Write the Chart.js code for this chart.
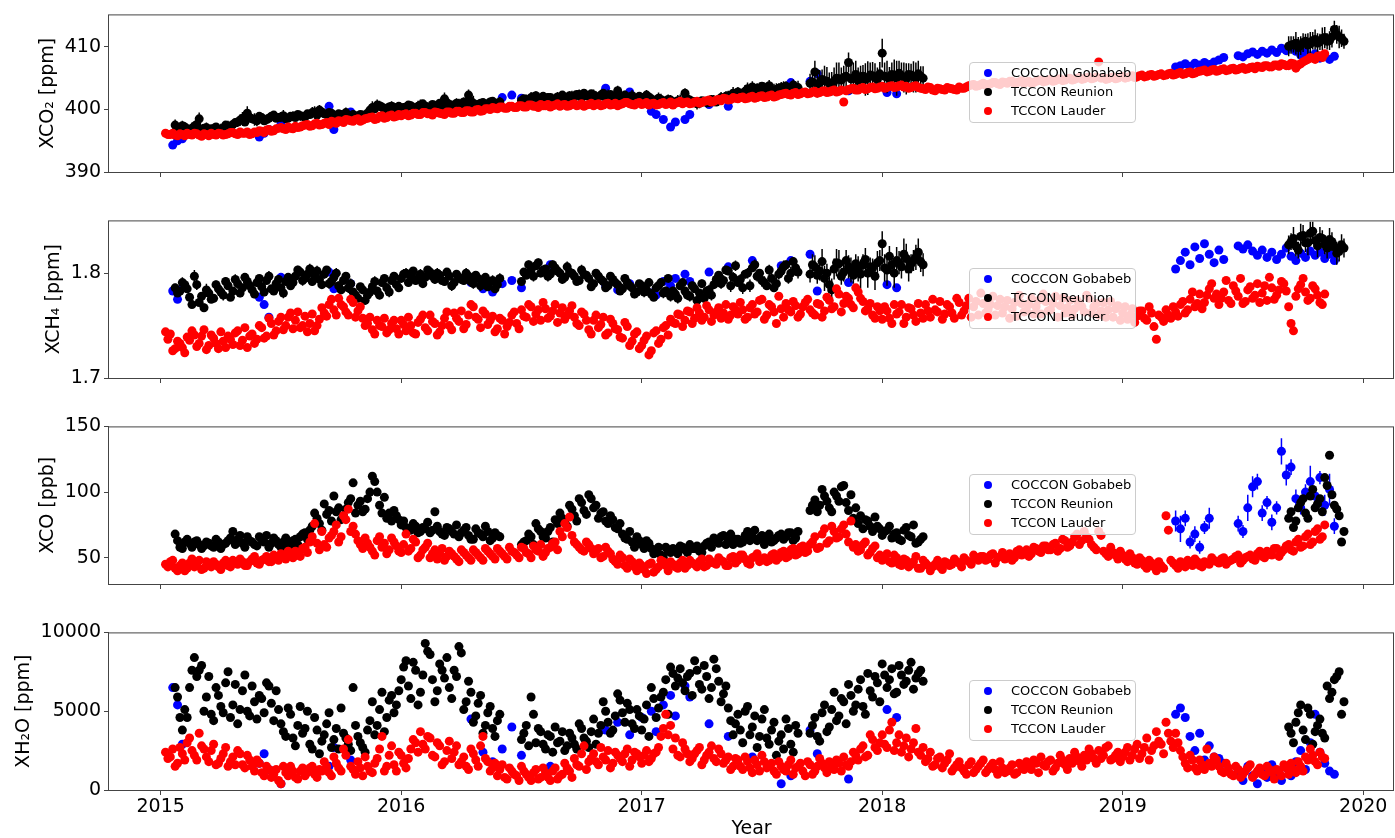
<!DOCTYPE html>
<html><head><meta charset="utf-8">
<script src="https://cdn.jsdelivr.net/npm/chart.js@4.4.1/dist/chart.umd.min.js"></script>
<style>
html,body{margin:0;padding:0;background:#fff;overflow:hidden;}
#wrap{position:relative;width:1395px;height:838px;overflow:hidden;}
.pc{position:absolute;left:0;}
.leg{position:absolute;left:969px;width:167px;height:61px;box-sizing:border-box;border:1px solid #cccccc;border-radius:4px;background:rgba(255,255,255,0.8);font-family:'DejaVu Sans',sans-serif;font-size:13px;color:#000;}
.leg .row{position:absolute;left:0;height:19px;line-height:19px;width:100%;}
.leg .dot{position:absolute;left:14px;top:5.5px;width:8px;height:8px;border-radius:50%;}
.leg .txt{position:absolute;left:41px;top:0;white-space:nowrap;}
</style></head><body><div id="wrap"></div>
<script>
// ---------------- DATA ----------------
const yearTicks = [2015,2016,2017,2018,2019,2020];
const xco2Ticks = [390,400,410];
const xch4Ticks = [1.7,1.8];
const xcoTicks = [50,100,150];
const xh2oTicks = [0,5000,10000];

// ===== TCCON Reunion (sample set A) =====
const reunionDates = [
2015.06,2015.08,2015.10,2015.12,2015.14,2015.16,2015.18,2015.20,2015.22,2015.24,
2015.26,2015.28,2015.30,2015.32,2015.34,2015.36,2015.38,2015.40,2015.42,2015.44,
2015.46,2015.48,2015.50,2015.52,2015.54,2015.56,2015.58,2015.60,2015.62,2015.64,
2015.66,2015.68,2015.70,2015.72,2015.74,2015.76,2015.78,2015.80,2015.82,2015.84,
2015.86,2015.88,2015.90,2015.92,2015.94,2015.96,2015.98,
2016.00,2016.02,2016.04,2016.06,2016.08,2016.10,2016.12,2016.14,2016.16,2016.18,
2016.20,2016.22,2016.24,2016.26,2016.28,2016.30,2016.32,2016.34,2016.36,2016.38,
2016.40,
2016.50,2016.52,2016.54,2016.56,2016.58,2016.60,2016.62,2016.64,2016.66,2016.68,
2016.70,2016.72,2016.74,2016.76,2016.78,2016.80,2016.82,2016.84,2016.86,2016.88,
2016.90,2016.92,2016.94,2016.96,2016.98,
2017.00,2017.02,2017.04,2017.06,2017.08,2017.10,2017.12,2017.14,2017.16,2017.18,
2017.20,2017.22,2017.24,2017.26,2017.28,2017.30,2017.32,2017.34,2017.36,2017.38,
2017.40,2017.42,2017.44,2017.46,2017.48,2017.50,2017.52,2017.54,2017.56,2017.58,
2017.60,2017.62,2017.64,
2017.70,2017.72,2017.74,2017.76,2017.78,2017.80,2017.82,2017.84,2017.86,2017.88,
2017.90,2017.92,2017.94,2017.96,2017.98,
2018.00,2018.02,2018.04,2018.06,2018.08,2018.10,2018.12,2018.14,2018.16,
2019.70,2019.72,2019.74,2019.76,2019.78,2019.80,2019.82,2019.84,2019.86,2019.88,2019.90,2019.92];
const reunionXCO2 = [
397.5,396.9,397.2,396.8,397.3,398.5,397.0,396.6,396.9,396.7,
397.0,397.3,397.6,398.0,398.6,399.4,398.5,398.2,398.7,398.4,
398.9,398.6,398.8,398.5,398.9,398.7,399.0,398.8,399.2,399.6,
399.9,399.3,399.5,399.1,399.3,399.0,398.8,399.2,398.9,399.1,
399.4,400.3,400.7,400.4,400.2,400.5,400.3,
400.1,400.4,400.6,400.3,400.7,400.5,400.2,400.6,401.0,401.7,
400.8,400.5,400.9,401.2,402.3,401.0,400.8,401.1,400.9,401.3,
401.0,
401.4,401.6,401.9,402.2,401.8,401.7,401.9,401.6,401.8,401.9,
402.2,402.0,402.4,402.6,402.1,402.3,402.0,402.6,402.2,402.0,
403.0,402.1,401.9,402.2,401.8,
401.9,402.3,401.7,401.5,401.6,401.3,401.5,401.2,401.4,402.6,
401.5,401.2,401.0,401.3,401.1,401.4,401.6,401.8,402.2,402.6,
402.8,402.6,403.3,403.6,403.4,403.7,403.3,403.0,403.2,403.5,
403.7,403.4,403.6,
404.2,406.0,404.3,404.6,404.2,404.5,404.9,405.1,407.5,405.0,
404.6,405.3,405.0,405.4,404.8,
409.0,405.2,405.6,405.0,405.4,404.9,405.5,405.1,405.3,
410.3,410.6,410.2,410.9,410.5,411.2,410.8,411.5,411.0,412.8,411.6,410.9];
const reunionXCO2Err = [
0.9,0.6,0.8,0.5,0.7,1.0,0.6,0.5,0.8,0.6,
0.7,0.9,0.6,0.8,1.0,1.1,0.7,0.9,0.6,0.8,
0.7,0.6,0.8,0.5,0.7,0.6,0.8,0.5,0.7,0.9,
0.8,0.6,0.7,0.5,0.6,0.8,0.5,0.7,0.6,0.5,
0.7,1.0,0.9,0.7,0.6,0.8,0.6,
0.6,0.8,0.7,0.5,0.9,0.6,0.7,0.8,0.6,1.0,
0.7,0.6,0.8,0.7,0.9,1.2,0.7,0.6,0.8,0.7,
0.6,
0.7,0.8,0.9,0.7,0.6,0.8,0.7,0.9,0.6,0.8,
0.7,1.0,0.8,0.6,0.7,0.9,0.8,0.6,1.0,0.7,
0.8,0.6,0.7,0.9,0.6,
0.7,0.8,0.6,0.7,0.9,0.6,0.8,0.7,1.0,0.8,
0.6,0.7,0.8,0.6,0.7,0.9,0.6,0.7,0.8,1.0,
0.8,0.7,1.0,0.9,0.8,0.7,0.9,0.8,1.0,0.9,
0.8,1.0,0.9,
1.5,1.8,2.0,2.4,1.7,2.2,2.6,1.9,1.6,2.5,
2.1,1.8,2.7,2.2,1.9,
2.3,2.6,1.9,2.8,2.1,2.5,1.8,2.4,1.6,
1.4,1.8,1.5,1.2,1.9,1.6,1.3,1.7,1.5,1.4,1.8,1.2];
const reunionXCH4 = [
1.786,1.783,1.789,1.777,1.797,1.772,1.767,1.781,1.776,1.785,
1.779,1.788,1.783,1.790,1.786,1.792,1.784,1.791,1.787,1.793,
1.785,1.790,1.786,1.792,1.788,1.797,1.801,1.795,1.804,1.798,
1.794,1.799,1.790,1.796,1.788,1.793,1.786,1.782,1.776,1.784,
1.779,1.787,1.783,1.791,1.786,1.793,1.789,
1.795,1.800,1.797,1.793,1.799,1.796,1.801,1.794,1.798,1.792,
1.797,1.791,1.796,1.793,1.797,1.790,1.795,1.791,1.787,1.793,
1.789,
1.792,1.798,1.803,1.807,1.800,1.804,1.799,1.805,1.800,1.796,
1.801,1.797,1.793,1.799,1.795,1.790,1.797,1.792,1.788,1.794,
1.789,1.785,1.791,1.786,1.782,
1.788,1.784,1.780,1.786,1.791,1.783,1.778,1.780,1.788,1.783,
1.778,1.785,1.781,1.776,1.784,1.789,1.798,1.793,1.802,1.796,
1.791,1.786,1.800,1.805,1.797,1.793,1.788,1.795,1.790,1.802,
1.808,1.800,1.805,
1.799,1.806,1.802,1.795,1.789,1.804,1.809,1.801,1.806,1.798,
1.804,1.808,1.800,1.805,1.810,
1.828,1.803,1.808,1.812,1.806,1.814,1.809,1.815,1.811,
1.830,1.826,1.835,1.829,1.838,1.831,1.834,1.827,1.832,1.825,1.821,1.824];
const reunionXCH4Err = [
0.004,0.003,0.005,0.004,0.006,0.003,0.004,0.005,0.003,0.004,
0.005,0.004,0.003,0.005,0.004,0.006,0.003,0.004,0.005,0.004,
0.003,0.005,0.004,0.003,0.004,0.005,0.004,0.003,0.005,0.004,
0.003,0.004,0.005,0.003,0.004,0.003,0.005,0.004,0.003,0.004,
0.005,0.004,0.003,0.004,0.005,0.003,0.004,
0.004,0.005,0.003,0.004,0.005,0.004,0.003,0.004,0.005,0.004,
0.003,0.004,0.005,0.004,0.003,0.005,0.004,0.003,0.004,0.005,
0.004,
0.004,0.003,0.005,0.004,0.003,0.004,0.005,0.004,0.003,0.004,
0.005,0.004,0.003,0.004,0.005,0.004,0.003,0.005,0.004,0.003,
0.004,0.005,0.004,0.003,0.004,
0.004,0.003,0.005,0.004,0.003,0.004,0.005,0.004,0.003,0.004,
0.005,0.004,0.003,0.004,0.005,0.004,0.003,0.005,0.004,0.005,
0.004,0.006,0.005,0.004,0.005,0.006,0.004,0.005,0.006,0.005,
0.004,0.006,0.005,
0.008,0.011,0.009,0.012,0.008,0.010,0.013,0.009,0.011,0.008,
0.012,0.010,0.014,0.009,0.011,
0.012,0.015,0.010,0.013,0.011,0.014,0.009,0.012,0.010,
0.008,0.010,0.012,0.009,0.011,0.008,0.010,0.009,0.011,0.008,0.010,0.009];
const reunionXCO = [
68,58,62,61,62,60,59,61,58,62,
60,63,70,64,61,66,62,59,64,67,
61,63,58,65,60,64,66,69,71,84,
76,91,86,97,88,82,92,107,90,85,
95,112,100,84,80,78,82,
75,73,71,74,70,72,69,85,70,67,
72,68,66,71,67,64,69,66,70,65,
67,
60,63,66,76,70,65,73,79,84,77,
90,82,95,86,98,88,80,85,76,79,
72,68,64,62,66,
60,63,57,55,52,58,54,56,59,56,
60,57,55,59,62,65,61,67,63,60,
64,62,70,66,63,67,64,62,65,68,
66,69,65,
86,94,90,97,88,100,93,105,86,80,
76,72,78,70,74,
67,71,65,69,63,73,66,61,64,
85,78,92,84,97,88,95,111,128,90,82,70];
const reunionXH2O = [
6500,4600,5100,6500,8400,7600,5000,7200,4400,6000,
4900,7500,5400,4200,6300,5000,6600,4500,5800,6800,
5500,6300,4200,3400,4800,2800,5300,3900,2900,4600,
2300,3500,4900,3200,2600,3600,2900,6500,3400,2700,
3800,5600,4100,6200,4600,6000,5400,
7000,8200,5800,7600,6200,9300,8600,5600,8000,7100,
6500,7600,9100,5100,6900,4300,5500,3600,4900,3900,
4400,
3200,4100,5900,3000,3700,2600,3400,4000,3100,2500,
3600,2900,4200,3300,2700,4500,3600,5600,4300,3800,
6100,4900,5500,4200,5100,
3800,5400,6500,4600,5900,7000,7800,6600,7700,6300,
7400,8200,6700,7900,5800,8300,6900,6100,5200,3500,
4800,3000,5300,4000,2700,4500,3300,3800,2200,3500,
4500,2900,4100,
3600,4600,3100,5400,4000,6200,4700,5600,6700,5000,
6400,5300,7400,5900,6800,
8000,6500,7700,6200,7300,6900,8100,7100,7600,
3600,4300,5400,3200,4800,3700,4500,3300,5800,7000,7500,5600];

// ===== TCCON Reunion (sample set B) =====
const reunionDatesB = [
2015.07,2015.09,2015.11,2015.13,2015.15,2015.17,2015.19,2015.21,2015.23,2015.25,
2015.27,2015.29,2015.31,2015.33,2015.35,2015.37,2015.39,2015.41,2015.43,2015.45,
2015.47,2015.49,2015.51,2015.53,2015.55,2015.57,2015.59,2015.61,2015.63,2015.65,
2015.67,2015.69,2015.71,2015.73,2015.75,2015.77,2015.79,2015.81,2015.83,2015.85,
2015.87,2015.89,2015.91,2015.93,2015.95,2015.97,2015.99,
2016.01,2016.03,2016.05,2016.07,2016.09,2016.11,2016.13,2016.15,2016.17,2016.19,
2016.21,2016.23,2016.25,2016.27,2016.29,2016.31,2016.33,2016.35,2016.37,2016.39,
2016.41,
2016.51,2016.53,2016.55,2016.57,2016.59,2016.61,2016.63,2016.65,2016.67,2016.69,
2016.71,2016.73,2016.75,2016.77,2016.79,2016.81,2016.83,2016.85,2016.87,2016.89,
2016.91,2016.93,2016.95,2016.97,2016.99,
2017.01,2017.03,2017.05,2017.07,2017.09,2017.11,2017.13,2017.15,2017.17,2017.19,
2017.21,2017.23,2017.25,2017.27,2017.29,2017.31,2017.33,2017.35,2017.37,2017.39,
2017.41,2017.43,2017.45,2017.47,2017.49,2017.51,2017.53,2017.55,2017.57,2017.59,
2017.61,2017.63,2017.65,
2017.71,2017.73,2017.75,2017.77,2017.79,2017.81,2017.83,2017.85,2017.87,2017.89,
2017.91,2017.93,2017.95,2017.97,2017.99,
2018.01,2018.03,2018.05,2018.07,2018.09,2018.11,2018.13,2018.15,2018.17,
2019.69,2019.71,2019.73,2019.75,2019.77,2019.79,2019.81,2019.83,2019.85,2019.87,2019.89,2019.91];
const reunionXCO2B = [
397.1,397.4,396.9,397.0,397.6,396.8,397.1,396.9,397.2,396.8,
397.5,397.0,397.9,398.3,398.0,398.7,398.4,398.9,398.2,398.6,
399.1,398.7,399.0,398.6,398.9,399.2,398.9,399.3,399.5,399.1,
399.6,399.2,399.4,398.9,399.2,399.5,399.0,398.8,399.2,399.0,
399.9,400.1,400.6,400.0,400.4,400.2,400.5,
400.3,400.7,400.2,400.5,400.9,400.4,400.8,400.3,400.6,401.1,
400.7,401.0,400.6,400.9,401.3,400.7,401.0,400.8,401.2,400.9,
401.2,
401.7,401.5,402.0,401.6,402.1,401.9,401.6,402.0,402.3,401.8,
402.1,402.4,401.9,402.2,402.5,402.0,402.3,401.9,402.4,402.1,
401.8,402.3,402.0,401.7,402.1,
401.6,402.0,401.4,401.8,401.2,401.6,401.0,401.4,401.1,401.7,
401.3,400.9,401.4,401.1,401.6,401.2,401.9,402.1,401.7,402.4,
402.1,402.9,402.5,403.0,403.2,403.5,403.8,403.1,403.4,403.6,
403.2,403.9,403.5,
404.4,404.0,404.8,404.5,404.1,405.0,404.7,405.3,404.9,405.6,
405.2,404.8,405.5,405.1,405.7,
405.3,404.9,405.4,405.8,405.1,405.6,405.2,405.7,405.0,
410.1,410.4,409.9,410.7,410.3,411.0,410.6,411.3,410.9,411.6,412.0,411.4];
const reunionXCO2ErrB = [
0.7,0.8,0.5,0.9,0.6,0.7,0.8,0.6,0.5,0.9,
0.6,0.8,0.7,0.9,0.6,0.8,1.0,0.7,0.5,0.8,
0.6,0.7,0.9,0.6,0.8,0.5,0.7,0.6,0.9,0.7,
0.6,0.8,0.5,0.7,0.6,0.8,0.7,0.5,0.6,0.8,
0.9,0.7,0.8,0.6,0.7,0.9,0.6,
0.7,0.6,0.8,0.9,0.6,0.7,0.5,0.8,0.7,0.9,
0.6,0.8,0.7,0.5,0.9,0.7,0.6,0.8,0.7,0.6,
0.8,
0.6,0.9,0.7,0.8,0.6,0.7,0.9,0.8,0.6,0.7,
0.9,0.6,0.8,0.7,0.6,0.9,0.7,0.8,0.6,0.7,
0.9,0.7,0.6,0.8,0.7,
0.8,0.6,0.7,0.9,0.7,0.8,0.6,0.9,0.7,0.8,
0.7,0.9,0.6,0.8,0.7,0.6,0.9,0.8,0.7,0.9,
0.8,1.0,0.8,0.9,1.1,0.8,0.9,1.0,0.8,0.9,
1.0,0.9,1.1,
1.7,2.1,1.6,2.3,1.9,2.5,2.0,1.7,2.4,2.2,
1.8,2.6,2.0,2.3,1.9,
2.2,1.9,2.6,2.0,2.4,1.8,2.5,2.1,1.9,
1.6,1.3,1.7,1.5,1.9,1.4,1.6,1.8,1.3,1.7,1.5,1.4];
const reunionXCH4B = [
1.781,1.791,1.785,1.770,1.789,1.778,1.784,1.775,1.789,1.782,
1.792,1.777,1.794,1.781,1.796,1.788,1.780,1.795,1.782,1.797,
1.783,1.794,1.781,1.796,1.791,1.803,1.793,1.799,1.792,1.802,
1.789,1.803,1.792,1.800,1.784,1.797,1.790,1.779,1.787,1.774,
1.782,1.792,1.779,1.795,1.782,1.797,1.786,
1.799,1.791,1.802,1.795,1.790,1.803,1.797,1.800,1.793,1.801,
1.788,1.799,1.794,1.800,1.792,1.798,1.788,1.796,1.792,1.785,
1.795,
1.801,1.808,1.797,1.810,1.803,1.797,1.808,1.802,1.794,1.806,
1.800,1.792,1.803,1.798,1.787,1.800,1.794,1.786,1.797,1.791,
1.783,1.795,1.788,1.780,1.790,
1.782,1.791,1.777,1.788,1.781,1.795,1.783,1.776,1.791,1.779,
1.788,1.774,1.790,1.783,1.779,1.794,1.790,1.803,1.788,1.807,
1.794,1.799,1.788,1.808,1.800,1.791,1.803,1.786,1.799,1.806,
1.795,1.811,1.801,
1.808,1.798,1.811,1.800,1.784,1.810,1.797,1.812,1.803,1.809,
1.799,1.813,1.806,1.797,1.812,
1.805,1.816,1.800,1.810,1.818,1.804,1.812,1.820,1.808,
1.827,1.833,1.822,1.836,1.829,1.840,1.826,1.833,1.824,1.830,1.819,1.827];
const reunionXCH4ErrB = [
0.003,0.005,0.004,0.003,0.005,0.004,0.006,0.003,0.004,0.005,
0.004,0.003,0.005,0.004,0.003,0.005,0.004,0.003,0.004,0.005,
0.003,0.004,0.005,0.004,0.003,0.004,0.005,0.003,0.004,0.005,
0.004,0.003,0.004,0.005,0.003,0.004,0.005,0.004,0.003,0.004,
0.003,0.005,0.004,0.003,0.005,0.004,0.003,
0.005,0.004,0.003,0.005,0.004,0.003,0.004,0.005,0.003,0.004,
0.005,0.003,0.004,0.005,0.004,0.003,0.005,0.004,0.003,0.004,
0.005,
0.003,0.004,0.005,0.004,0.003,0.005,0.004,0.003,0.004,0.005,
0.004,0.003,0.005,0.004,0.003,0.004,0.005,0.003,0.004,0.005,
0.003,0.004,0.005,0.004,0.003,
0.005,0.004,0.003,0.004,0.005,0.003,0.004,0.005,0.004,0.003,
0.004,0.005,0.004,0.003,0.005,0.004,0.005,0.004,0.006,0.005,
0.005,0.004,0.006,0.005,0.004,0.006,0.005,0.004,0.005,0.006,
0.005,0.004,0.006,
0.010,0.008,0.012,0.009,0.011,0.013,0.008,0.010,0.012,0.009,
0.014,0.011,0.009,0.013,0.010,
0.013,0.010,0.014,0.011,0.015,0.012,0.010,0.013,0.011,
0.009,0.011,0.008,0.010,0.012,0.009,0.011,0.008,0.010,0.009,0.011,0.010];
const reunionXCOB = [
63,57,64,58,63,57,62,59,64,57,
61,65,60,67,58,63,60,66,62,58,
65,60,62,57,63,60,68,64,74,80,
71,83,78,85,79,87,95,84,93,87,
100,108,90,96,84,86,79,
78,72,76,69,73,77,71,74,68,73,
70,75,69,73,64,72,68,74,63,69,
66,
62,68,60,72,66,70,62,76,80,74,
87,78,92,83,95,90,84,78,82,73,
76,65,70,58,63,
57,61,53,58,50,55,57,53,58,54,
57,59,54,61,58,63,66,60,68,64,
61,67,63,71,65,60,68,63,67,64,
69,63,70,
90,85,102,93,85,97,104,92,98,88,
82,79,74,81,72,
70,74,68,64,71,67,75,62,66,
80,73,88,95,80,102,91,85,105,98,87,62];
const reunionXH2OB = [
5900,3800,4600,7600,7200,7900,5900,4800,6500,5300,
6800,4600,6700,5100,7300,4700,5600,6000,4900,6600,
4400,5100,3700,5200,3300,4100,3600,5000,2600,3800,
3100,4200,2700,3900,5200,3300,2500,4100,3000,2400,
4400,3500,5100,3700,5700,4900,6300,
7800,6600,8100,5400,7300,8800,7000,6300,7600,8400,
5800,7200,8700,5600,6200,4700,6000,4100,5300,3400,
4800,
3600,2800,4800,3900,2900,3500,2400,3000,3700,2800,
3300,2600,3900,3100,3700,2900,4100,5000,3600,4700,
5700,4300,5100,3900,4700,
4500,3400,5800,5200,6200,4800,7400,7100,6800,7200,
6000,7600,6400,7200,6500,7700,5600,6600,4400,4200,
3800,5000,3500,4700,3400,5100,2900,4300,3100,2600,
3900,2400,3600,
4100,3400,4900,3700,5100,4400,5800,4200,6000,5400,
7000,4800,6300,7200,5600,
7300,7000,6100,7900,6700,7600,6400,7400,6900,
4000,3000,4900,3800,5200,2900,4100,3600,6600,6200,7200,4800];

// ===== TCCON Lauder (sample set A) =====
const lauderDates = [
2015.02,2015.04,2015.06,2015.08,2015.10,2015.12,2015.14,2015.16,2015.18,2015.20,
2015.22,2015.24,2015.26,2015.28,2015.30,2015.32,2015.34,2015.36,2015.38,2015.40,
2015.42,2015.44,2015.46,2015.48,2015.50,2015.52,2015.54,2015.56,2015.58,2015.60,
2015.62,2015.64,2015.66,2015.68,2015.70,2015.72,2015.74,2015.76,2015.78,2015.80,
2015.82,2015.84,2015.86,2015.88,2015.90,2015.92,2015.94,2015.96,2015.98,
2016.00,2016.02,2016.04,2016.06,2016.08,2016.10,2016.12,2016.14,2016.16,2016.18,
2016.20,2016.22,2016.24,2016.26,2016.28,2016.30,2016.32,2016.34,2016.36,2016.38,
2016.40,2016.42,2016.44,2016.46,2016.48,2016.50,2016.52,2016.54,2016.56,2016.58,
2016.60,2016.62,2016.64,2016.66,2016.68,2016.70,2016.72,2016.74,2016.76,2016.78,
2016.80,2016.82,2016.84,2016.86,2016.88,2016.90,2016.92,2016.94,2016.96,2016.98,
2017.00,2017.02,2017.04,2017.06,2017.08,2017.10,2017.12,2017.14,2017.16,2017.18,
2017.20,2017.22,2017.24,2017.26,2017.28,2017.30,2017.32,2017.34,2017.36,2017.38,
2017.40,2017.42,2017.44,2017.46,2017.48,2017.50,2017.52,2017.54,2017.56,2017.58,
2017.60,2017.62,2017.64,2017.66,2017.68,2017.70,2017.72,2017.74,2017.76,2017.78,
2017.80,2017.82,2017.84,2017.86,2017.88,2017.90,2017.92,2017.94,2017.96,2017.98,
2018.00,2018.02,2018.04,2018.06,2018.08,2018.10,2018.12,2018.14,2018.16,2018.18,
2018.20,2018.22,2018.24,2018.26,2018.28,2018.30,2018.32,2018.34,2018.36,2018.38,
2018.40,2018.42,2018.44,2018.46,2018.48,2018.50,2018.52,2018.54,2018.56,2018.58,
2018.60,2018.62,2018.64,2018.66,2018.68,2018.70,2018.72,2018.74,2018.76,2018.78,
2018.80,2018.82,2018.84,2018.86,2018.88,2018.90,2018.92,2018.94,2018.96,2018.98,
2019.00,2019.02,2019.04,2019.06,2019.08,2019.10,2019.12,2019.14,2019.16,2019.18,
2019.20,2019.22,2019.24,2019.26,2019.28,2019.30,2019.32,2019.34,2019.36,2019.38,
2019.40,2019.42,2019.44,2019.46,2019.48,2019.50,2019.52,2019.54,2019.56,2019.58,
2019.60,2019.62,2019.64,2019.66,2019.68,2019.70,2019.72,2019.74,2019.76,2019.78,
2019.80,2019.82,2019.84];
const lauderXCO2 = [
396.2,396.0,395.9,396.1,395.8,396.0,396.2,395.9,396.1,395.8,
396.0,396.2,395.9,396.1,396.3,396.0,396.2,396.4,396.1,396.3,
396.5,396.7,396.5,396.9,397.1,396.8,397.0,397.3,397.2,397.5,
397.3,397.7,397.5,397.8,397.6,398.0,398.2,397.9,398.3,398.1,
398.5,398.3,398.6,398.8,398.5,399.0,398.7,399.1,398.9,
399.0,399.3,399.1,399.4,399.2,399.5,399.3,399.6,399.4,399.2,
399.6,399.4,399.7,399.5,399.8,399.6,400.0,399.8,400.1,400.3,
400.1,400.4,400.2,400.5,400.3,400.6,400.4,400.7,400.5,400.8,
400.6,400.4,400.7,400.5,400.8,400.6,400.9,400.7,400.5,400.8,
400.6,400.9,400.7,401.0,400.8,400.6,400.9,401.1,400.8,401.0,
400.8,401.1,400.9,400.7,401.0,400.8,401.2,401.0,401.3,401.1,
400.9,401.2,401.0,401.3,401.5,401.3,401.6,401.8,401.5,401.9,
401.7,402.0,401.8,402.1,401.9,402.2,402.0,402.3,402.1,402.4,
402.6,402.3,402.7,402.5,402.8,402.6,402.9,402.7,403.0,402.8,
403.1,402.9,401.2,403.2,403.4,403.1,403.5,403.3,403.6,403.4,
403.7,403.5,403.8,403.6,403.9,403.7,403.5,403.8,403.4,403.2,
403.5,403.0,403.3,403.1,403.4,403.2,403.6,403.4,403.8,404.0,
403.8,404.2,404.0,404.3,404.1,404.4,404.2,404.5,404.3,404.6,
404.4,404.2,404.5,404.7,404.5,404.8,404.6,404.9,404.7,405.0,
404.8,405.1,404.9,405.2,405.0,407.6,405.1,404.9,405.2,405.0,
405.3,405.1,405.4,405.2,405.5,405.3,405.6,405.4,405.7,405.5,
405.8,405.6,405.9,405.7,406.0,405.8,406.1,406.3,406.1,406.4,
406.2,406.5,406.3,406.6,406.4,406.7,406.5,406.8,406.9,406.7,
407.0,406.8,407.1,407.3,407.0,407.4,406.6,407.3,407.8,408.3,
408.0,408.6,408.9];
const lauderXCH4 = [
1.744,1.742,1.728,1.733,1.724,1.736,1.741,1.733,1.746,1.731,
1.738,1.728,1.735,1.740,1.732,1.745,1.736,1.729,1.742,1.737,
1.748,1.740,1.752,1.745,1.758,1.750,1.762,1.755,1.748,1.759,
1.752,1.745,1.756,1.762,1.770,1.765,1.776,1.768,1.760,1.772,
1.764,1.757,1.752,1.746,1.755,1.749,1.743,1.752,1.747,
1.755,1.745,1.750,1.742,1.756,1.748,1.760,1.752,1.744,1.757,
1.750,1.762,1.754,1.747,1.760,1.768,1.756,1.764,1.751,1.759,
1.747,1.755,1.749,1.760,1.752,1.765,1.758,1.768,1.761,1.755,
1.766,1.759,1.770,1.762,1.756,1.764,1.758,1.750,1.761,1.746,
1.755,1.748,1.758,1.743,1.752,1.746,1.738,1.749,1.735,1.744,
1.731,1.740,1.726,1.745,1.737,1.750,1.756,1.752,1.760,1.755,
1.763,1.757,1.762,1.758,1.765,1.760,1.767,1.762,1.756,1.768,
1.761,1.765,1.758,1.770,1.763,1.775,1.760,1.768,1.752,1.766,
1.771,1.763,1.769,1.761,1.772,1.765,1.760,1.770,1.764,1.774,
1.768,1.780,1.771,1.776,1.767,1.782,1.773,1.766,1.760,1.768,
1.756,1.764,1.752,1.761,1.770,1.758,1.766,1.754,1.762,1.770,
1.758,1.765,1.773,1.761,1.768,1.757,1.772,1.764,1.776,1.768,
1.760,1.771,1.765,1.778,1.769,1.762,1.774,1.766,1.759,1.771,
1.764,1.776,1.768,1.761,1.773,1.765,1.778,1.769,1.762,1.774,
1.766,1.771,1.763,1.776,1.768,1.760,1.772,1.765,1.758,1.769,
1.762,1.756,1.766,1.759,1.764,1.755,1.762,1.737,1.758,1.765,
1.757,1.763,1.770,1.762,1.775,1.768,1.780,1.772,1.785,1.776,
1.770,1.782,1.774,1.788,1.778,1.771,1.784,1.776,1.790,1.781,
1.774,1.786,1.779,1.792,1.783,1.752,1.778,1.789,1.782,1.776,
1.785,1.772,1.780];
const lauderXCO = [
45,47,42,44,40,46,43,48,42,45,
47,43,46,44,48,45,47,44,49,46,
48,51,47,50,53,49,52,55,51,58,
62,76,56,60,65,70,62,82,87,74,
63,57,61,55,63,58,53,65,59,
54,68,57,62,52,58,50,56,53,48,
55,51,47,54,50,56,52,48,55,51,
57,53,49,55,52,58,54,50,56,60,
54,58,62,70,76,81,62,58,55,60,
53,57,51,55,49,45,50,42,47,40,
44,38,46,41,48,44,47,43,46,42,
48,45,47,43,49,46,50,47,44,51,
48,52,46,50,53,49,47,52,48,54,
50,56,52,58,54,60,66,58,72,63,
70,66,75,62,58,55,60,52,57,50,
48,53,46,50,44,48,45,51,42,46,
40,45,43,47,44,49,46,50,47,52,
48,51,49,53,50,54,51,48,55,52,
56,53,57,54,59,56,61,57,63,59,
66,60,70,64,58,70,55,51,54,49,
52,47,50,45,48,42,46,40,44,82,
48,44,47,43,46,49,44,47,45,48,
46,50,47,49,52,48,51,49,53,51,
55,52,57,54,59,56,62,58,66,60,
70,64,75];
const lauderXH2O = [
2400,2100,1500,2700,1900,3300,2200,3600,2600,1800,
2900,1700,2300,1500,2100,2500,1600,2200,1500,1900,
1100,1500,800,1300,400,1100,1500,800,1200,900,
1400,1000,1300,1800,1100,2100,1400,2600,3200,1300,
1800,900,1500,1100,2000,3400,1500,2800,1200,
2200,1400,2600,3000,3700,2600,3300,2100,2800,1800,
3100,2400,1600,2100,1300,2300,1500,3400,1800,1400,
900,1600,700,1200,900,1500,1000,600,1300,800,
1100,600,1400,900,1700,1200,2000,1500,2800,1800,
2300,1600,2100,2500,1700,2200,1800,2600,1900,2300,
1700,2500,2000,2400,3400,4800,4100,3300,2100,2600,
1800,2300,2700,1900,2400,2000,2600,1700,2100,1500,
1900,1300,1800,1100,1600,2200,1400,1700,1000,1500,
1200,1900,1400,1700,900,1600,1200,2000,1400,1800,
1300,1700,2100,1500,2400,1900,2800,2200,3200,2500,
3500,2700,4300,3000,2400,3300,2600,3900,2200,1800,
2400,1600,2100,1700,2300,1400,1800,1200,1600,1100,
1500,1900,1300,1700,1000,1400,1200,1600,1100,1500,
1800,1300,1700,2100,1500,1900,1400,2200,1600,2000,
2400,1800,2200,2600,2000,2500,2200,2800,2000,2400,
2100,2700,2200,2900,2300,3300,2500,3700,2900,4300,
3100,3600,2500,1700,2200,1400,1900,1300,1700,2100,
1500,1100,1400,900,1300,1000,1400,800,1200,1000,
1500,1100,1300,900,1400,1700,1100,1500,2100,2600,
1800,2400,2000];

// ===== TCCON Lauder (sample set B) =====
const lauderDatesB = [
2015.03,2015.05,2015.07,2015.09,2015.11,2015.13,2015.15,2015.17,2015.19,2015.21,
2015.23,2015.25,2015.27,2015.29,2015.31,2015.33,2015.35,2015.37,2015.39,2015.41,
2015.43,2015.45,2015.47,2015.49,2015.51,2015.53,2015.55,2015.57,2015.59,2015.61,
2015.63,2015.65,2015.67,2015.69,2015.71,2015.73,2015.75,2015.77,2015.79,2015.81,
2015.83,2015.85,2015.87,2015.89,2015.91,2015.93,2015.95,2015.97,2015.99,
2016.01,2016.03,2016.05,2016.07,2016.09,2016.11,2016.13,2016.15,2016.17,2016.19,
2016.21,2016.23,2016.25,2016.27,2016.29,2016.31,2016.33,2016.35,2016.37,2016.39,
2016.41,2016.43,2016.45,2016.47,2016.49,2016.51,2016.53,2016.55,2016.57,2016.59,
2016.61,2016.63,2016.65,2016.67,2016.69,2016.71,2016.73,2016.75,2016.77,2016.79,
2016.81,2016.83,2016.85,2016.87,2016.89,2016.91,2016.93,2016.95,2016.97,2016.99,
2017.01,2017.03,2017.05,2017.07,2017.09,2017.11,2017.13,2017.15,2017.17,2017.19,
2017.21,2017.23,2017.25,2017.27,2017.29,2017.31,2017.33,2017.35,2017.37,2017.39,
2017.41,2017.43,2017.45,2017.47,2017.49,2017.51,2017.53,2017.55,2017.57,2017.59,
2017.61,2017.63,2017.65,2017.67,2017.69,2017.71,2017.73,2017.75,2017.77,2017.79,
2017.81,2017.83,2017.85,2017.87,2017.89,2017.91,2017.93,2017.95,2017.97,2017.99,
2018.01,2018.03,2018.05,2018.07,2018.09,2018.11,2018.13,2018.15,2018.17,2018.19,
2018.21,2018.23,2018.25,2018.27,2018.29,2018.31,2018.33,2018.35,2018.37,2018.39,
2018.41,2018.43,2018.45,2018.47,2018.49,2018.51,2018.53,2018.55,2018.57,2018.59,
2018.61,2018.63,2018.65,2018.67,2018.69,2018.71,2018.73,2018.75,2018.77,2018.79,
2018.81,2018.83,2018.85,2018.87,2018.89,2018.91,2018.93,2018.95,2018.97,2018.99,
2019.01,2019.03,2019.05,2019.07,2019.09,2019.11,2019.13,2019.15,2019.17,2019.19,
2019.21,2019.23,2019.25,2019.27,2019.29,2019.31,2019.33,2019.35,2019.37,2019.39,
2019.41,2019.43,2019.45,2019.47,2019.49,2019.51,2019.53,2019.55,2019.57,2019.59,
2019.61,2019.63,2019.65,2019.67,2019.69,2019.71,2019.73,2019.75,2019.77,2019.79,
2019.81,2019.83];
const lauderXCO2B = [
396.0,396.2,395.8,396.0,396.2,395.9,396.1,395.7,396.0,396.2,
395.9,396.1,396.0,396.3,396.1,396.4,396.2,396.0,396.4,396.6,
396.3,396.8,396.6,397.0,396.9,397.2,396.9,397.1,397.4,397.6,
397.4,397.8,397.6,397.9,398.1,397.8,398.1,398.4,398.2,398.4,
398.1,398.5,398.7,398.4,398.9,398.6,399.0,398.8,399.2,
399.2,399.0,399.4,399.2,399.5,399.3,399.1,399.5,399.3,399.6,
399.4,399.7,399.5,399.8,399.6,399.9,399.7,400.1,400.0,400.2,
400.4,400.2,400.5,400.3,400.6,400.4,400.7,400.5,400.3,400.6,
400.8,400.6,400.9,400.7,400.5,400.8,400.6,400.9,400.7,401.0,
400.8,400.6,400.9,400.7,401.0,400.8,401.1,400.9,400.7,401.1,
400.9,400.7,401.0,400.8,401.1,400.9,400.7,401.1,400.9,401.2,
401.0,401.3,401.1,401.4,401.2,401.5,401.4,401.7,401.6,401.8,
401.9,401.7,402.0,401.8,402.1,401.9,402.2,402.0,402.3,402.5,
402.4,402.6,402.4,402.7,402.5,402.8,402.6,402.9,402.7,403.0,
402.8,403.1,403.0,403.3,403.1,403.4,403.2,403.5,403.3,403.6,
403.4,403.7,403.5,403.8,403.6,403.4,403.7,403.5,403.3,403.6,
403.1,403.4,403.2,403.5,403.3,403.1,403.4,403.6,403.9,403.7,
404.0,403.9,404.1,404.3,404.0,404.3,404.5,404.2,404.4,404.2,
404.5,404.3,404.6,404.4,404.7,404.5,404.8,404.6,404.9,404.7,
405.0,404.8,405.1,404.9,405.2,405.0,404.8,405.1,404.9,405.2,
405.0,405.3,405.1,405.4,405.2,405.5,405.3,405.6,405.4,405.7,
405.5,405.8,405.6,405.9,405.7,406.0,406.2,406.0,406.3,406.1,
406.4,406.2,406.5,406.3,406.6,406.4,406.7,406.5,406.8,407.0,
406.8,407.1,406.9,407.2,407.0,407.3,407.1,407.6,408.0,408.2,
408.5,408.3];
const lauderXCH4B = [
1.737,1.726,1.735,1.729,1.739,1.745,1.730,1.740,1.727,1.741,
1.733,1.744,1.729,1.737,1.743,1.731,1.748,1.740,1.733,1.750,
1.738,1.757,1.741,1.754,1.746,1.758,1.747,1.763,1.750,1.744,
1.761,1.750,1.767,1.759,1.775,1.760,1.770,1.763,1.775,1.758,
1.768,1.750,1.758,1.742,1.750,1.757,1.746,1.755,1.742,
1.751,1.758,1.743,1.753,1.760,1.745,1.754,1.741,1.750,1.763,
1.746,1.757,1.764,1.751,1.770,1.758,1.748,1.761,1.755,1.744,
1.757,1.742,1.753,1.763,1.747,1.759,1.770,1.754,1.765,1.772,
1.757,1.764,1.753,1.767,1.760,1.769,1.752,1.763,1.755,1.742,
1.760,1.751,1.741,1.756,1.747,1.739,1.753,1.731,1.742,1.728,
1.736,1.722,1.743,1.733,1.748,1.741,1.753,1.761,1.749,1.764,
1.752,1.767,1.755,1.769,1.754,1.763,1.757,1.770,1.760,1.765,
1.772,1.756,1.767,1.761,1.774,1.756,1.770,1.763,1.778,1.758,
1.765,1.773,1.758,1.768,1.775,1.762,1.771,1.758,1.777,1.766,
1.785,1.763,1.778,1.770,1.786,1.776,1.764,1.771,1.757,1.764,
1.768,1.757,1.770,1.763,1.752,1.767,1.760,1.771,1.757,1.764,
1.775,1.763,1.756,1.770,1.762,1.776,1.760,1.769,1.758,1.773,
1.781,1.762,1.770,1.760,1.775,1.768,1.757,1.772,1.779,1.763,
1.770,1.761,1.774,1.780,1.764,1.771,1.758,1.776,1.767,1.760,
1.774,1.768,1.779,1.762,1.771,1.764,1.758,1.773,1.766,1.755,
1.768,1.760,1.753,1.764,1.757,1.768,1.749,1.760,1.754,1.760,
1.768,1.759,1.773,1.765,1.782,1.771,1.766,1.779,1.790,1.780,
1.776,1.793,1.771,1.783,1.795,1.773,1.787,1.779,1.772,1.788,
1.796,1.775,1.784,1.790,1.768,1.745,1.785,1.795,1.774,1.788,
1.779,1.770];
const lauderXCOB = [
43,48,40,46,42,49,44,41,47,43,
45,41,48,43,46,49,44,47,51,45,
49,47,52,48,51,55,50,53,57,54,
66,61,70,58,67,75,66,79,70,68,
60,65,58,52,66,61,56,62,55,
60,55,64,50,56,61,53,49,57,51,
53,49,56,52,48,54,50,57,53,49,
55,51,58,54,50,57,53,59,55,51,
57,61,56,66,73,67,60,56,62,57,
55,50,58,53,47,52,44,49,43,46,
41,45,39,43,47,40,45,42,48,44,
46,43,49,44,47,45,48,44,50,46,
52,49,45,51,47,50,48,53,50,55,
51,57,53,59,55,62,57,68,61,74,
65,72,68,78,60,56,62,54,59,52,
51,47,52,45,49,43,47,42,48,44,
43,48,41,46,45,47,43,48,45,50,
51,48,52,46,51,49,53,50,56,54,
51,58,55,59,56,60,55,64,58,62,
68,63,66,60,56,67,53,58,52,55,
49,53,46,50,44,48,43,47,42,71,
46,42,45,48,44,47,43,46,50,47,
49,45,48,51,46,50,52,48,55,50,
53,57,51,56,60,55,64,59,68,62,
72,66];
const lauderXH2OB = [
2000,2600,1700,2300,3000,2500,1900,2800,2100,2500,
1600,2000,2700,1800,1600,2300,1400,1900,1200,1700,
900,1300,1000,600,1500,900,1200,700,1400,1100,
1500,800,1200,1500,900,1700,1200,2200,1500,1000,
1400,2100,1200,1700,2600,1200,2200,1600,2400,
1700,2000,3200,2400,2900,3400,2200,3000,1600,2500,
2000,2800,1800,1500,2600,1900,2800,2000,1200,1700,
1300,800,1400,1000,600,1200,800,1100,700,1400,
800,1200,700,1000,1400,800,1600,2300,1300,2000,
1800,2700,1900,1400,2400,2000,2300,1500,2400,2100,
2200,1800,2300,2700,3900,3500,2600,2200,3000,2300,
2000,2500,1600,2200,2800,1800,2300,1900,1300,2000,
1500,2100,1400,1900,1200,1800,1500,1200,1800,1300,
1600,1000,1500,1200,1800,1000,1500,1700,1100,1500,
1900,1200,1600,1800,2200,2600,2100,3500,2700,3000,
2900,3800,2500,3500,2800,2100,3000,2400,2700,2000,
1500,2000,1400,1900,1200,1600,1400,1000,1800,1300,
1700,1100,1500,1300,1800,1100,1400,1000,1700,1300,
1500,1900,1100,1600,1800,1200,1700,1900,1300,1700,
2100,1500,1900,2300,1700,2000,2700,1900,2200,1800,
2400,1900,2600,2000,2700,1900,2800,3100,2300,3600,
2700,3000,2100,1400,1900,1200,1600,2600,1500,1900,
1200,1700,1000,1500,800,1200,1600,1000,1400,900,
1300,700,1200,1600,1000,1300,1800,1200,1900,2200,
1600,2100];

// ===== COCCON Gobabeb =====
const gobabebDates = [
2015.05,2015.07,2015.09,2015.41,2015.43,2015.45,2015.50,2015.70,2015.72,2015.79,
2016.29,2016.34,2016.38,2016.42,2016.46,2016.50,2016.62,2016.85,2016.90,2016.95,
2017.00,2017.04,2017.06,2017.09,2017.12,2017.14,2017.18,2017.20,2017.28,2017.36,
2017.46,2017.58,2017.62,2017.70,2017.73,2017.86,2018.02,2018.06,
2019.22,2019.24,2019.26,2019.28,2019.30,2019.32,2019.34,2019.36,2019.38,2019.40,
2019.42,2019.48,2019.50,2019.52,2019.54,2019.56,2019.58,2019.60,2019.62,2019.64,
2019.66,2019.68,2019.70,2019.72,2019.74,2019.76,2019.78,2019.80,2019.82,2019.84,
2019.86,2019.88];
const gobabebXCO2 = [
394.3,395.0,395.3,395.6,396.2,396.8,397.6,400.5,396.8,399.6,
400.5,400.8,401.0,401.9,402.3,401.8,401.5,403.4,402.5,402.8,
401.9,399.7,399.2,398.4,397.2,398.0,398.4,399.2,400.8,400.5,
402.5,403.2,404.3,404.5,405.7,403.0,402.7,402.5,
406.8,407.0,407.3,406.9,407.4,407.1,407.5,407.2,407.6,407.9,
408.3,408.6,408.4,408.9,409.2,408.8,409.3,409.0,409.5,409.1,
409.8,409.4,410.0,409.3,408.7,409.1,408.4,408.9,408.2,408.7,
408.0,408.5];
const gobabebXCH4 = [
1.783,1.775,1.786,1.777,1.770,1.758,1.796,1.801,1.785,1.790,
1.791,1.785,1.782,1.790,1.793,1.786,1.808,1.788,1.784,1.790,
1.786,1.781,1.779,1.792,1.788,1.795,1.799,1.792,1.801,1.806,
1.812,1.807,1.812,1.818,1.783,1.791,1.789,1.786,
1.804,1.812,1.820,1.808,1.825,1.814,1.828,1.818,1.810,1.822,
1.813,1.826,1.823,1.827,1.821,1.817,1.822,1.815,1.820,1.813,
1.818,1.824,1.816,1.812,1.819,1.815,1.821,1.817,1.820,1.814,
1.818,1.812];
const gobabebXCO = [
null,null,null,null,null,null,null,null,null,null,
null,null,null,null,null,null,null,null,null,null,
null,null,null,null,null,null,null,null,null,null,
null,null,null,null,null,null,null,null,
78,72,80,62,68,58,73,80,null,null,
null,76,70,88,104,108,84,92,77,88,
131,113,119,95,88,100,108,97,111,90,
102,74];
const gobabebXCOErr = [
0,0,0,0,0,0,0,0,0,0,
0,0,0,0,0,0,0,0,0,0,
0,0,0,0,0,0,0,0,0,0,
0,0,0,0,0,0,0,0,
8,10,6,5,6,5,5,8,0,0,
0,6,5,10,8,6,6,5,6,5,
10,8,6,7,5,6,12,6,5,8,
12,6];
const gobabebXH2O = [
6500,5400,2900,1700,2300,1300,400,1500,2700,1900,
4500,2400,1800,2600,4000,2200,1500,3800,4300,3500,
4600,5000,3700,5400,6000,4700,6600,5900,4200,3400,
2100,400,900,3800,2300,700,5100,4600,
4800,5200,4600,3400,2500,3600,1900,2800,2100,2000,
1700,1200,600,1500,900,400,1300,800,1600,1000,
600,1400,900,1800,2500,1300,3000,4800,2400,1700,
1200,1000];

// ---------------- CHART ----------------
Chart.defaults.font.family = "'DejaVu Sans', sans-serif";
Chart.defaults.font.size = 19;
Chart.defaults.color = '#000';

const X_MIN = 2014.785, X_MAX = 2020.128;
const PANEL_TOPS = [13, 219, 425, 631];
const PANEL_H = 159;

const panels = [
  {label:'XCO\u2082 [ppm]', titlePad:37, min:390, max:415.2, ticks:xco2Ticks,
   gob:[gobabebXCO2], reu:[reunionXCO2, reunionXCO2B], lau:[lauderXCO2, lauderXCO2B],
   reuErr:[reunionXCO2Err, reunionXCO2ErrB]},
  {label:'XCH\u2084 [ppm]', titlePad:43, min:1.7, max:1.8503, ticks:xch4Ticks,
   gob:[gobabebXCH4], reu:[reunionXCH4, reunionXCH4B], lau:[lauderXCH4, lauderXCH4B],
   reuErr:[reunionXCH4Err, reunionXCH4ErrB]},
  {label:'XCO [ppb]', titlePad:37, min:30, max:150, ticks:xcoTicks,
   gob:[gobabebXCO], reu:[reunionXCO, reunionXCOB], lau:[lauderXCO, lauderXCOB],
   gobErr:[gobabebXCOErr]},
  {label:'XH\u2082O [ppm]', titlePad:13, min:0, max:10000, ticks:xh2oTicks,
   gob:[gobabebXH2O], reu:[reunionXH2O, reunionXH2OB], lau:[lauderXH2O, lauderXH2OB]}
];

const siteDates = {
  gob: [gobabebDates],
  reu: [reunionDates, reunionDatesB],
  lau: [lauderDates, lauderDatesB]
};

function mkPoints(datesList, valsList) {
  const out = [];
  datesList.forEach((dates, k) => {
    const vals = valsList[k];
    dates.forEach((d, i) => out.push({x: d, y: (vals[i] === undefined ? null : vals[i])}));
  });
  return out;
}
function mkErrors(datesList, errList) {
  if (!errList) return undefined;
  const out = [];
  datesList.forEach((dates, k) => {
    const e = errList[k];
    dates.forEach((d, i) => out.push(e && e[i] ? e[i] : 0));
  });
  return out;
}

const errorBarPlugin = {
  id: 'errbars',
  beforeDatasetDraw(chart, args) {
    const ds = chart.data.datasets[args.index];
    if (!ds.errors) return;
    const xs = chart.scales.x, ys = chart.scales.y, ctx = chart.ctx, ca = chart.chartArea;
    ctx.save();
    ctx.beginPath();
    ctx.rect(ca.left, ca.top, ca.right - ca.left, ca.bottom - ca.top);
    ctx.clip();
    ctx.strokeStyle = ds.backgroundColor;
    ctx.lineWidth = 1.5;
    ctx.beginPath();
    ds.data.forEach((p, i) => {
      const e = ds.errors[i];
      if (p.y == null || !e) return;
      const px = xs.getPixelForValue(p.x);
      ctx.moveTo(px, ys.getPixelForValue(p.y - e));
      ctx.lineTo(px, ys.getPixelForValue(p.y + e));
    });
    ctx.stroke();
    ctx.restore();
  }
};

const framePlugin = {
  id: 'frame',
  afterDraw(chart) {
    const ca = chart.chartArea, ctx = chart.ctx;
    ctx.save();
    ctx.strokeStyle = '#444';
    ctx.lineWidth = 1;
    ctx.strokeRect(ca.left - 0.5, ca.top + 0.5, ca.right - ca.left, ca.bottom - ca.top);
    ctx.restore();
  }
};

const wrap = document.getElementById('wrap');
panels.forEach((p, i) => {
  const isLast = i === panels.length - 1;
  const top = PANEL_TOPS[i];
  const h = 13 + PANEL_H + (isLast ? 50 : 16);
  const div = document.createElement('div');
  div.className = 'pc';
  div.style.top = (top - 13) + 'px';
  const cv = document.createElement('canvas');
  cv.width = 1395; cv.height = h;
  cv.style.width = '1395px'; cv.style.height = h + 'px';
  div.appendChild(cv);
  wrap.appendChild(div);

  const common = {pointRadius: 4.5, pointBorderWidth: 0, pointHoverRadius: 4.5};
  const datasets = [
    Object.assign({label:'COCCON Gobabeb', data: mkPoints(siteDates.gob, p.gob),
      errors: mkErrors(siteDates.gob, p.gobErr), backgroundColor:'#0000ff', borderColor:'#0000ff', order:3}, common),
    Object.assign({label:'TCCON Reunion', data: mkPoints(siteDates.reu, p.reu),
      errors: mkErrors(siteDates.reu, p.reuErr), backgroundColor:'#000000', borderColor:'#000000', order:2}, common),
    Object.assign({label:'TCCON Lauder', data: mkPoints(siteDates.lau, p.lau),
      errors: mkErrors(siteDates.lau, p.lauErr), backgroundColor:'#ff0000', borderColor:'#ff0000', order:1}, common)
  ];

  new Chart(cv, {
    type: 'scatter',
    data: {datasets},
    options: {
      responsive: false,
      animation: false,
      devicePixelRatio: 1,
      events: [],
      layout: {padding: {top: 13, right: 1, left: 0, bottom: 0}, autoPadding: false},
      plugins: {legend: {display: false}, tooltip: {enabled: false}},
      scales: {
        x: {
          type: 'linear', position: 'bottom', min: X_MIN, max: X_MAX,
          border: {display: false},
          grid: {drawOnChartArea: false, drawTicks: true, tickLength: 5, color: '#444', lineWidth: 1},
          ticks: {display: isLast, padding: 1, color: '#000', callback: v => String(v), maxRotation: 0, autoSkip: false},
          title: {display: isLast, text: 'Year', color: '#000', padding: {top: 0, bottom: 0}},
          afterBuildTicks: s => { s.ticks = yearTicks.map(v => ({value: v})); },
          afterFit: s => { s.height = isLast ? 50 : 16; }
        },
        y: {
          type: 'linear', position: 'left', min: p.min, max: p.max,
          border: {display: false},
          grid: {drawOnChartArea: false, drawTicks: true, tickLength: 5, color: '#444', lineWidth: 1},
          ticks: {padding: 3, color: '#000', callback: v => String(v), autoSkip: false},
          title: {display: true, text: p.label, color: '#000', padding: {top: p.titlePad, bottom: 0}},
          afterBuildTicks: s => { s.ticks = p.ticks.map(v => ({value: v})); },
          afterFit: s => { s.width = 109; }
        }
      }
    },
    plugins: [errorBarPlugin, framePlugin]
  });

  // legend box drawn over the plot with a translucent white fill, as in the original
  const leg = document.createElement('div');
  leg.className = 'leg';
  leg.style.top = (top + 49) + 'px';
  datasets.forEach((ds, k) => {
    const row = document.createElement('div');
    row.className = 'row';
    row.style.top = (19 * k) + 'px';
    const dot = document.createElement('span');
    dot.className = 'dot';
    dot.style.background = ds.backgroundColor;
    const txt = document.createElement('span');
    txt.className = 'txt';
    txt.textContent = ds.label;
    row.appendChild(dot); row.appendChild(txt);
    leg.appendChild(row);
  });
  wrap.appendChild(leg);
});
</script></body></html>
